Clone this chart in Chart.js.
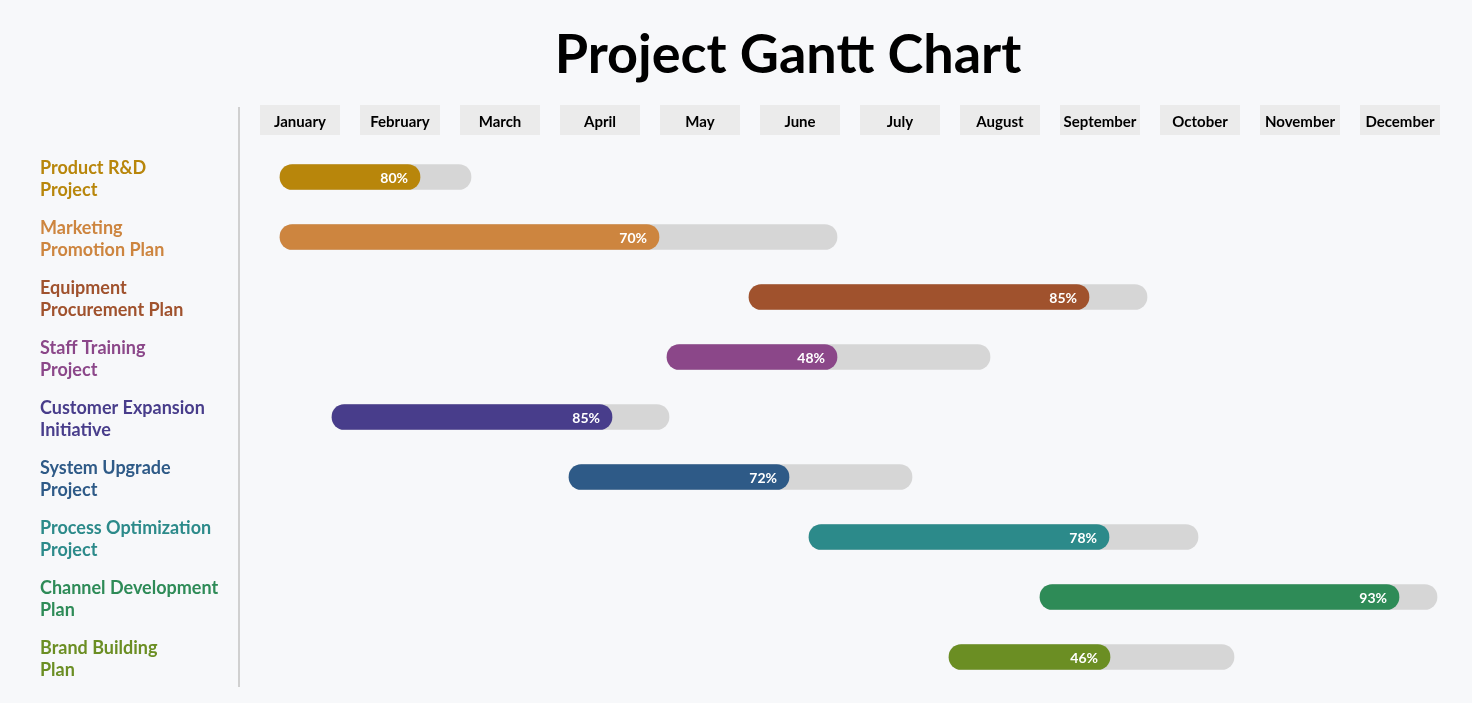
<!DOCTYPE html>
<html>
<head>
<meta charset="utf-8">
<title>Project Gantt Chart</title>
<script src="https://cdn.jsdelivr.net/npm/chart.js@4.4.1/dist/chart.umd.min.js"></script>
<style>
	body { margin: 0; background: #F7F8FA; }
	canvas { display: block; }
</style>
</head>
<body>
<canvas id="myChart" width="1472" height="703"></canvas>
<script>
// Global variables (values are in months, 0 = start of January)
let months = ["January", "February", "March", "April", "May", "June", "July", "August", "September", "October", "November", "December"];
let tasks = [
	["Product R&D", "Project"],
	["Marketing", "Promotion Plan"],
	["Equipment", "Procurement Plan"],
	["Staff Training", "Project"],
	["Customer Expansion", "Initiative"],
	["System Upgrade", "Project"],
	["Process Optimization", "Project"],
	["Channel Development", "Plan"],
	["Brand Building", "Plan"]
];
let startMonth = [0.30, 0.30, 4.99, 4.17, 0.82, 3.19, 5.59, 7.90, 6.99];
let endMonth = [2.21, 5.87, 8.97, 7.40, 4.19, 6.62, 9.48, 11.87, 9.84];
let doneMonth = [1.70, 4.09, 8.39, 5.87, 3.62, 5.39, 8.59, 11.49, 8.60];
let progress = [80, 70, 85, 48, 85, 72, 78, 93, 46];
let colors = ["#B8860B", "#CD853F", "#A0522D", "#8B4789", "#483D8B", "#2E5A87", "#2C8A8A", "#2E8B57", "#6B8E23"];

let fontName = "Lato, 'Noto Sans', sans-serif";

// This plugin draws the title, the month boxes and the separator line
const backgroundPlugin = {
	id: "ganttBackground",
	beforeDraw(chart) {
		let ctx = chart.ctx;
		let xScale = chart.scales.x;
		ctx.save();
		ctx.fillStyle = "#F7F8FA";
		ctx.fillRect(0, 0, chart.width, chart.height);

		ctx.fillStyle = "#000000";
		ctx.font = "bold 54px " + fontName;
		ctx.textAlign = "center";
		ctx.textBaseline = "alphabetic";
		ctx.fillText("Project Gantt Chart", 788, 73);

		ctx.fillStyle = "#EBEBEB";
		months.forEach((m, i) => {
			let left = xScale.getPixelForValue(i + 0.1);
			let right = xScale.getPixelForValue(i + 0.9);
			ctx.fillRect(left, 105, right - left, 30);
		});

		ctx.strokeStyle = "#D0D0D0";
		ctx.lineWidth = 2;
		ctx.beginPath();
		ctx.moveTo(239, 107);
		ctx.lineTo(239, chart.chartArea.bottom);
		ctx.stroke();
		ctx.restore();
	}
};

// This plugin writes the percentage inside each progress bar
const percentPlugin = {
	id: "percentLabels",
	afterDatasetsDraw(chart) {
		let ctx = chart.ctx;
		let meta = chart.getDatasetMeta(1);
		ctx.save();
		ctx.fillStyle = "#FFFFFF";
		ctx.font = "bold 14px " + fontName;
		ctx.textAlign = "right";
		ctx.textBaseline = "middle";
		meta.data.forEach((bar, i) => {
			let right = Math.max(bar.x, bar.base);
			ctx.fillText(progress[i] + "%", right - 12, bar.y + 1);
		});
		ctx.restore();
	}
};

const dataChart = {
	labels: tasks,
	datasets: [
		{
			label: "Duration",
			data: tasks.map((t, i) => [startMonth[i], endMonth[i]]),
			backgroundColor: "#D6D6D6",
			borderRadius: 13,
			borderSkipped: false,
			barThickness: 25,
			grouped: false,
			order: 2
		},
		{
			label: "Progress",
			data: tasks.map((t, i) => [startMonth[i], doneMonth[i]]),
			backgroundColor: colors,
			borderRadius: 13,
			borderSkipped: false,
			barThickness: 25,
			grouped: false,
			order: 1
		}
	]
};

const config = {
	type: "bar",
	data: dataChart,
	options: {
		indexAxis: "y",
		responsive: false,
		animation: false,
		layout: { padding: { left: 40, right: 22, top: 105, bottom: 16 } },
		plugins: {
			legend: { display: false },
			tooltip: { enabled: false },
			title: { display: false }
		},
		scales: {
			x: {
				position: "top",
				min: -0.1,
				max: 12,
				grid: { display: false, drawTicks: false },
				border: { display: false },
				afterBuildTicks: (scale) => {
					scale.ticks = months.map((m, i) => ({ value: i + 0.5 }));
				},
				afterFit: (scale) => { scale.height = 42; },
				ticks: {
					autoSkip: false,
					maxRotation: 0,
					padding: 16,
					color: "#000000",
					font: { family: fontName, size: 15, weight: "bold" },
					callback: (value, index) => months[index]
				}
			},
			y: {
				grid: { display: false, drawTicks: false },
				border: { display: false },
				afterFit: (scale) => {
					scale.width = 200;
					scale.paddingTop = 0;
					scale.paddingBottom = 0;
				},
				ticks: {
					autoSkip: false,
					crossAlign: "far",
					labelOffset: 2,
					color: colors,
					font: { family: fontName, size: 18, weight: "bold", lineHeight: 1.22 }
				}
			}
		}
	},
	plugins: [backgroundPlugin, percentPlugin]
};

let myChart = new Chart(document.getElementById("myChart"), config);
</script>
</body>
</html>
